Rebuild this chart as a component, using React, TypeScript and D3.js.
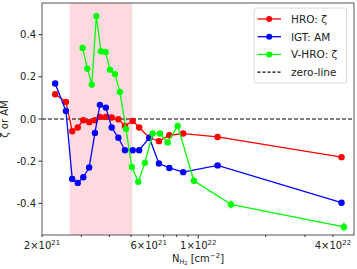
import * as d3 from 'd3'

// column density bins (cm^-2), shared by HRO and IGT
const nBins = [2.29e21, 2.56e21, 2.73e21, 2.89e21, 3.06e21, 3.25e21, 3.45e21, 3.63e21, 3.86e21, 4.10e21,
    4.39e21, 4.70e21, 5.09e21, 5.44e21, 6.04e21, 6.67e21, 7.42e21, 8.56e21, 1.22e22, 4.37e22]
const hroZeta = [0.117, 0.081, -0.058, -0.040, -0.006, -0.015, -0.006, 0.010, 0.010, 0.007,
    -0.001, -0.033, -0.009, -0.040, -0.089, -0.105, -0.077, -0.069, -0.085, -0.181]
const igtAM = [0.168, 0.038, -0.284, -0.303, -0.276, -0.230, -0.066, 0.067, 0.054, -0.040,
    -0.089, -0.148, -0.148, -0.148, -0.089, -0.211, -0.232, -0.252, -0.220, -0.397]

const vBins = [3.04e21, 3.19e21, 3.34e21, 3.50e21, 3.67e21, 3.85e21, 4.03e21, 4.24e21, 4.46e21, 4.75e21,
    5.04e21, 5.39e21, 5.77e21, 6.25e21, 6.74e21, 7.29e21, 8.09e21, 9.56e21, 1.40e22, 4.48e22]
const vhroZeta = [0.337, 0.239, 0.163, 0.488, 0.321, 0.318, 0.234, 0.213, 0.128, -0.048,
    -0.227, -0.298, -0.208, -0.069, -0.069, -0.111, -0.033, -0.293, -0.405, -0.512]
const vhroErr = [0.015, 0.015, 0.015, 0.015, 0.012, 0.012, 0.012, 0.012, 0.012, 0.012,
    0.012, 0.012, 0.012, 0.012, 0.012, 0.012, 0.015, 0.015, 0.018, 0.02]

const shadeRange = [2.66e21, 5.07e21]
const yTicks = [-0.4, -0.2, 0.0, 0.2, 0.4]
const xMinorTicks = [3e21, 4e21, 5e21, 7e21, 8e21, 9e21, 2e22, 3e22]
const xLabelTicks = [
    { value: 2e21, mant: '2', exp: '21' },
    { value: 6e21, mant: '6', exp: '21' },
    { value: 1e22, mant: '1', exp: '22' },
    { value: 4e22, mant: '4', exp: '22' },
]

const series = [
    { name: 'HRO: ζ', color: '#ff0000', xs: nBins, ys: hroZeta },
    { name: 'IGT: AM', color: '#0000ff', xs: nBins, ys: igtAM },
    { name: 'V-HRO: ζ', color: '#00ff00', xs: vBins, ys: vhroZeta },
]

const App = () => {
    const svgWidth = 357
    const svgHeight = 269
    const margin = { left: 42, right: 3, top: 3, bottom: 34 }
    const width = svgWidth - margin.left - margin.right
    const height = svgHeight - margin.top - margin.bottom
    const font = 'DejaVu Sans, sans-serif'

    const x = d3.scaleLog().domain([2e21, 4.97e22]).range([0, width])
    const y = d3.scaleLinear().domain([-0.55, 0.55]).range([height, 0])

    const line = d3.line<[number, number]>()
        .x(d => x(d[0]))
        .y(d => y(d[1]))

    const lines = series.map((s, si) => {
        const pts = s.xs.map((v, i) => [v, s.ys[i]] as [number, number])
        return (
            <g key={si}>
                <path d={line(pts) ?? ''} fill="none" stroke={s.color} strokeWidth={1.3} />
                {si === 2 && pts.map((p, i) => (
                    <line key={'e' + i} x1={x(p[0])} x2={x(p[0])}
                        y1={y(p[1] - vhroErr[i])} y2={y(p[1] + vhroErr[i])}
                        stroke={s.color} strokeWidth={1.5} />
                ))}
                {pts.map((p, i) => (
                    <circle key={i} cx={x(p[0])} cy={y(p[1])} r={3.2} fill={s.color} />
                ))}
            </g>
        )
    })

    const legendItems = [...series.map(s => ({ name: s.name, color: s.color, dashed: false })),
        { name: 'zero-line', color: '#000', dashed: true }]

    return (
        <svg width={svgWidth} height={svgHeight} style={{ position: 'absolute', left: 0, top: 0 }}>
            <rect width={svgWidth} height={svgHeight} fill="#fff" />
            <g transform={`translate(${margin.left},${margin.top})`}>
                <rect x={x(shadeRange[0])} y={0} width={x(shadeRange[1]) - x(shadeRange[0])}
                    height={height} fill="#ffc0cb" fillOpacity={0.6} />
                <line x1={0} x2={width} y1={y(0)} y2={y(0)} stroke="#000" strokeWidth={1.2} strokeDasharray="4,2" />
                {lines}

                <rect x={0} y={0} width={width} height={height} fill="none" stroke="#555" strokeWidth={1} />

                {yTicks.map((t, i) => (
                    <g key={i}>
                        <line x1={-3.5} x2={0} y1={y(t)} y2={y(t)} stroke="#333" />
                        <text x={-6} y={y(t)} textAnchor="end" dominantBaseline="central"
                            fontSize={10} fontFamily={font} fill="#222">{t.toFixed(1)}</text>
                    </g>
                ))}

                {xMinorTicks.map((t, i) => (
                    <line key={i} x1={x(t)} x2={x(t)} y1={height} y2={height + 2} stroke="#333" />
                ))}
                {xLabelTicks.map((t, i) => (
                    <g key={i}>
                        <line x1={x(t.value)} x2={x(t.value)} y1={height}
                            y2={height + (t.value === 1e22 ? 3.5 : 2)} stroke="#333" />
                        <text x={x(t.value)} y={height + 14} textAnchor="middle"
                            fontSize={10} fontFamily={font} fill="#222">
                            {t.mant}×10<tspan fontSize={7} dy={-4}>{t.exp}</tspan>
                        </text>
                    </g>
                ))}

                <text x={width / 2} y={height + 27} textAnchor="middle" fontSize={10} fontFamily={font} fill="#222">
                    N<tspan fontSize={6.5} dy={2}>H</tspan><tspan fontSize={5} dy={1}>2</tspan>
                    <tspan dy={-3}> [cm</tspan><tspan fontSize={7} dy={-4}>−2</tspan><tspan dy={4}>]</tspan>
                </text>
                <text transform={`translate(${-34},${height / 2}) rotate(-90)`} textAnchor="middle"
                    fontSize={10} fontFamily={font} fill="#222">ζ or AM</text>

                <g transform={`translate(${width - 100},${5})`}>
                    <rect x={0} y={0} width={92.5} height={75} rx={2} fill="#fff" fillOpacity={0.85}
                        stroke="#d0d0d0" strokeWidth={0.8} />
                    {legendItems.map((it, i) => (
                        <g key={i} transform={`translate(0,${11 + i * 17.7})`}>
                            <line x1={3.5} x2={27} y1={0} y2={0} stroke={it.color}
                                strokeWidth={it.dashed ? 1.2 : 1.3} strokeDasharray={it.dashed ? '3,2' : undefined} />
                            {!it.dashed && <circle cx={15.2} cy={0} r={3} fill={it.color} />}
                            <text x={37} y={0} dominantBaseline="central" fontSize={10.5}
                                fontFamily={font} fill="#222">{it.name}</text>
                        </g>
                    ))}
                </g>
            </g>
        </svg>
    )
}

export default App
